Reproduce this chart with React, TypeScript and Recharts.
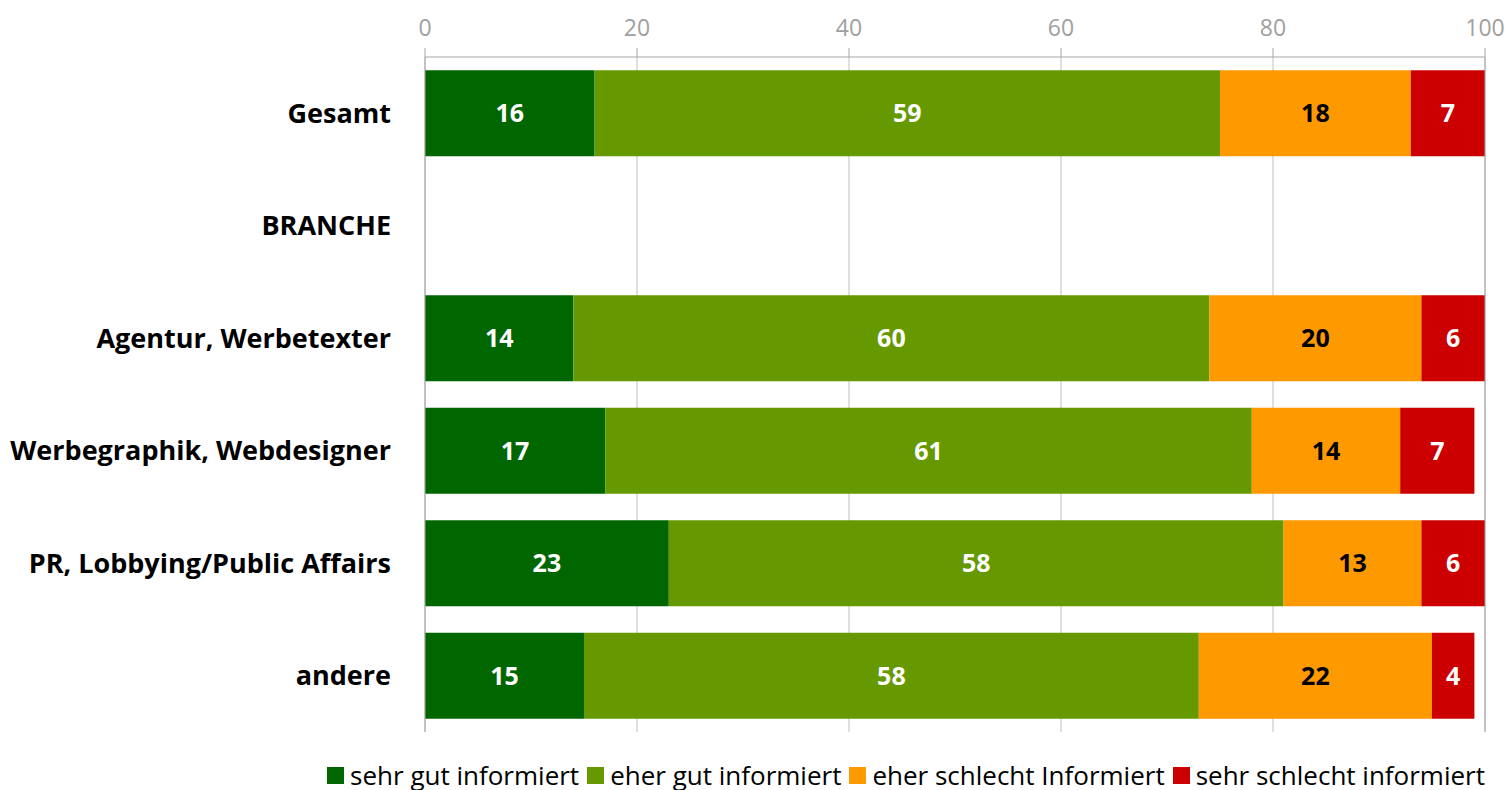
import React from "react";
import {
  BarChart,
  Bar,
  XAxis,
  YAxis,
  CartesianGrid,
  Legend,
  LabelList,
  ReferenceLine
} from "recharts";

// categories top to bottom
const categories = [
  "Gesamt",
  "BRANCHE",
  "Agentur, Werbetexter",
  "Werbegraphik, Webdesigner",
  "PR, Lobbying/Public Affairs",
  "andere"
];

const sehrGut = [16, null, 14, 17, 23, 15];
const eherGut = [59, null, 60, 61, 58, 58];
const eherSchlecht = [18, null, 20, 14, 13, 22];
const sehrSchlecht = [7, null, 6, 7, 6, 4];

const xTicks = [0, 20, 40, 60, 80, 100];

const series = [
  { key: "sehrGut", name: "sehr gut informiert", color: "#006600", text: "#ffffff" },
  { key: "eherGut", name: "eher gut informiert", color: "#669900", text: "#ffffff" },
  { key: "eherSchlecht", name: "eher schlecht Informiert", color: "#FF9900", text: "#000000" },
  { key: "sehrSchlecht", name: "sehr schlecht informiert", color: "#CC0000", text: "#ffffff" }
];

const data = categories.map((name, i) => ({
  name,
  sehrGut: sehrGut[i],
  eherGut: eherGut[i],
  eherSchlecht: eherSchlecht[i],
  sehrSchlecht: sehrSchlecht[i]
}));

const FONT = "'Open Sans', sans-serif";

const LegendBox = () => (
  <div
    style={{
      display: "flex",
      justifyContent: "flex-end",
      alignItems: "center",
      height: 30,
      paddingRight: 21,
      fontFamily: FONT,
      fontSize: 26,
      color: "#000"
    }}
  >
    {series.map((s) => (
      <span key={s.key} style={{ display: "flex", alignItems: "center", marginLeft: 8 }}>
        <span style={{ width: 17, height: 17, background: s.color, display: "inline-block", marginRight: 6 }} />
        {s.name}
      </span>
    ))}
  </div>
);

export default function App() {
  return (
    <div style={{ position: "absolute", left: 0, top: 0, width: 1506, height: 790, background: "#fff" }}>
      <BarChart
        width={1506}
        height={790}
        data={data}
        layout="vertical"
        barCategoryGap="11.8%"
        margin={{ top: 0, right: 21, left: 0, bottom: 28 }}
        style={{ fontFamily: FONT }}
      >
        <CartesianGrid horizontal={false} stroke="#bfbfbf" />
        <XAxis
          type="number"
          orientation="top"
          domain={[0, 100]}
          ticks={xTicks}
          height={57}
          tickSize={9}
          tickMargin={12}
          stroke="#a6a6a6"
          tick={{ fill: "#a0a0a0", fontSize: 23 }}
        />
        <XAxis
          xAxisId="bottom"
          type="number"
          orientation="bottom"
          domain={[0, 100]}
          height={0}
          tick={false}
          tickLine={false}
          stroke="#bfbfbf"
        />
        <YAxis
          type="category"
          dataKey="name"
          width={425}
          tickLine={false}
          tickMargin={28}
          stroke="#a6a6a6"
          tick={{ fill: "#000", fontSize: 27, fontWeight: 700 }}
          interval={0}
        />
        <ReferenceLine x={100} stroke="#a6a6a6" />
        <Legend
          verticalAlign="bottom"
          content={<LegendBox />}
          wrapperStyle={{ bottom: 0, left: 0, width: 1506, height: 30 }}
        />
        {series.map((s) => (
          <Bar key={s.key} dataKey={s.key} name={s.name} stackId="a" fill={s.color} isAnimationActive={false}>
            <LabelList
              dataKey={s.key}
              position="center"
              fill={s.text}
              style={{ fontSize: 25, fontWeight: 700, fontFamily: FONT }}
            />
          </Bar>
        ))}
      </BarChart>
    </div>
  );
}
